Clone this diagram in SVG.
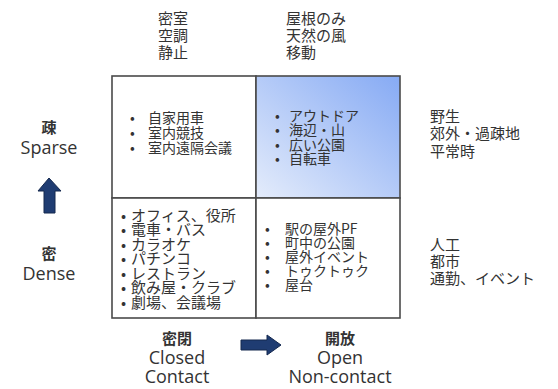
<svg xmlns="http://www.w3.org/2000/svg" width="558" height="389" viewBox="0 0 558 389">
<style>
.jp{font-family:"Noto Sans CJK JP","Noto Sans",sans-serif;fill:#333;}
.h{font-size:15px;}
.c{font-size:14px;}
.c2{font-size:15px;}
.en{font-family:"Open Sans","Noto Sans",sans-serif;font-size:18px;fill:#333;text-anchor:middle;}
.b{font-family:"Noto Sans CJK JP",sans-serif;font-size:15px;font-weight:bold;fill:#333;text-anchor:middle;}
.cell{stroke:#4a4a4a;stroke-width:1.6;}
.arrow{fill:#1f3c72;stroke:#15294f;stroke-width:1;}
</style>
<defs>
<linearGradient id="blue" x1="0" y1="1" x2="1" y2="0">
<stop offset="0" stop-color="#e4ecfb"/>
<stop offset="1" stop-color="#86aaf4"/>
</linearGradient>
</defs>
<rect width="558" height="389" fill="#fff"/>

<g id="header-closed">
<text class="jp h"><tspan x="158" y="23.5">密室</tspan><tspan x="158" y="40.5">空調</tspan><tspan x="158" y="57.5">静止</tspan></text>
</g>
<g id="header-open">
<text class="jp h"><tspan x="286" y="23.5">屋根のみ</tspan><tspan x="286" y="40.5">天然の風</tspan><tspan x="286" y="57.5">移動</tspan></text>
</g>

<g id="cell-sparse-closed">
<rect class="cell" x="112" y="76" width="144" height="122" fill="#fff"/>
<text class="jp c"><tspan x="130" y="123">•</tspan><tspan x="148" y="123">自家用車</tspan><tspan x="130" y="138">•</tspan><tspan x="148" y="138">室内競技</tspan><tspan x="130" y="152.5">•</tspan><tspan x="148" y="152.5">室内遠隔会議</tspan></text>
</g>

<g id="cell-sparse-open">
<rect class="cell" x="256" y="76" width="144" height="122" fill="url(#blue)"/>
<text class="jp c"><tspan x="275" y="120.5">•</tspan><tspan x="289" y="120.5">アウトドア</tspan><tspan x="275" y="135">•</tspan><tspan x="289" y="135">海辺・山</tspan><tspan x="275" y="149.5">•</tspan><tspan x="289" y="149.5">広い公園</tspan><tspan x="275" y="164">•</tspan><tspan x="289" y="164">自転車</tspan></text>
</g>

<g id="cell-dense-closed">
<rect class="cell" x="112" y="198" width="144" height="120" fill="#fff"/>
<text class="jp c2"><tspan x="121" y="220.5">•</tspan><tspan x="131" y="220.5">オフィス、役所</tspan><tspan x="121" y="235">•</tspan><tspan x="131" y="235">電車・バス</tspan><tspan x="121" y="249.5">•</tspan><tspan x="131" y="249.5">カラオケ</tspan><tspan x="121" y="264">•</tspan><tspan x="131" y="264">パチンコ</tspan><tspan x="121" y="278.5">•</tspan><tspan x="131" y="278.5">レストラン</tspan><tspan x="121" y="293">•</tspan><tspan x="131" y="293">飲み屋・クラブ</tspan><tspan x="121" y="308">•</tspan><tspan x="131" y="308">劇場、会議場</tspan></text>
</g>

<g id="cell-dense-open">
<rect class="cell" x="256" y="198" width="144" height="120" fill="#fff"/>
<text class="jp c"><tspan x="265" y="233.5">•</tspan><tspan x="285" y="233.5">駅の屋外PF</tspan><tspan x="265" y="247.5">•</tspan><tspan x="285" y="247.5">町中の公園</tspan><tspan x="265" y="261.5">•</tspan><tspan x="285" y="261.5">屋外イベント</tspan><tspan x="265" y="276">•</tspan><tspan x="285" y="276">トゥクトゥク</tspan><tspan x="265" y="290">•</tspan><tspan x="285" y="290">屋台</tspan></text>
</g>

<g id="label-sparse-right">
<text class="jp h"><tspan x="430" y="121.5">野生</tspan><tspan x="430" y="139">郊外・過疎地</tspan><tspan x="430" y="156.5">平常時</tspan></text>
</g>
<g id="label-dense-right">
<text class="jp h"><tspan x="430" y="249.5">人工</tspan><tspan x="430" y="266.5">都市</tspan><tspan x="430" y="283.5">通勤、イベント</tspan></text>
</g>

<g id="axis-sparse">
<text class="b" x="49" y="133">疎</text>
<text class="en" x="49" y="154">Sparse</text>
</g>
<g id="axis-dense">
<text class="b" x="49" y="259">密</text>
<text class="en" x="49" y="280">Dense</text>
</g>
<g id="axis-closed">
<text class="b" x="177" y="344">密閉</text>
<text class="en" x="177" y="364">Closed</text>
<text class="en" x="177" y="383">Contact</text>
</g>
<g id="axis-open">
<text class="b" x="340" y="344">開放</text>
<text class="en" x="340" y="364">Open</text>
<text class="en" x="340" y="383">Non-contact</text>
</g>

<g id="connectors">
<polygon class="arrow" points="49,178 61,191 55,191 55,213 44,213 44,191 38,191"/>
<polygon class="arrow" points="281,345 267,335 267,340 241,340 241,350 267,350 267,355"/>
</g>
</svg>
